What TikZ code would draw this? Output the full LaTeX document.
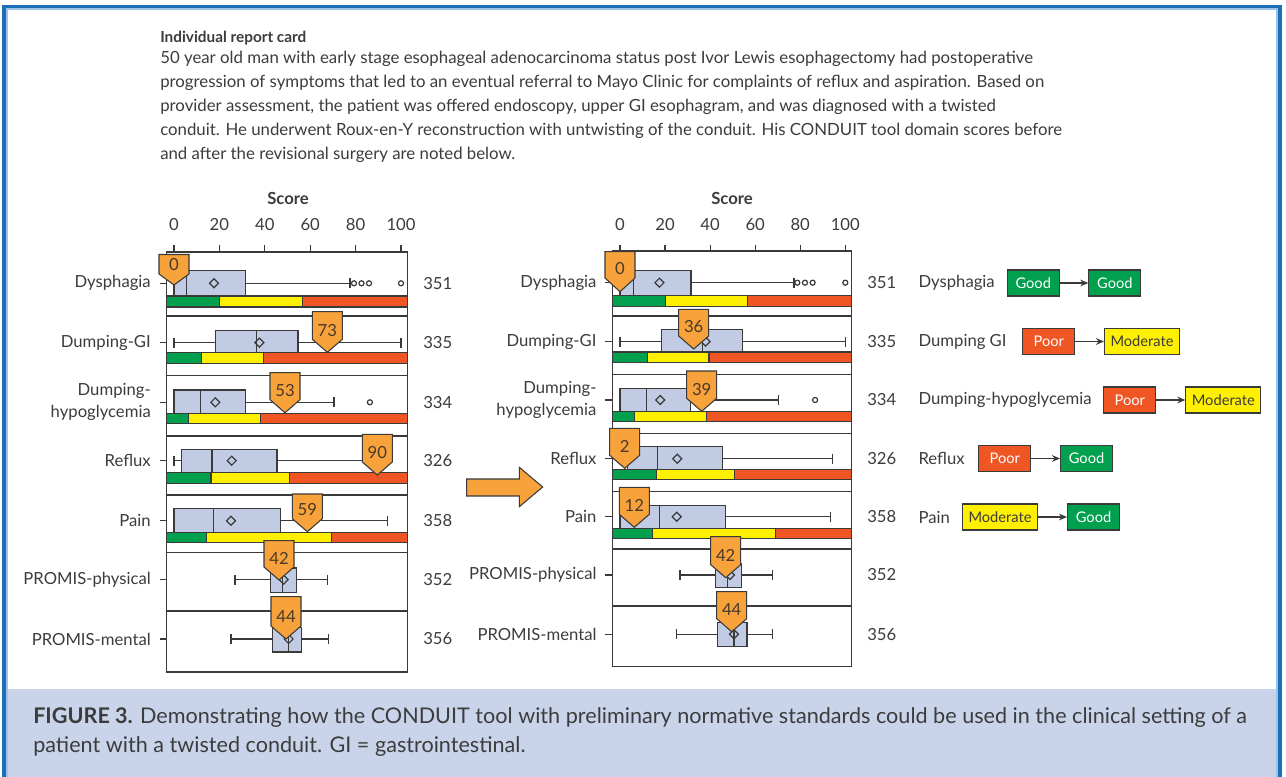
\documentclass[tikz,border=0pt]{standalone}
\usepackage{fontspec}
\setmainfont{Lato}
\usetikzlibrary{arrows.meta}
\definecolor{cgreen}{HTML}{00A04F}
\definecolor{cyellow}{HTML}{FFEF00}
\definecolor{cred}{HTML}{EF5623}
\definecolor{corange}{HTML}{F7A23B}
\definecolor{cbox}{HTML}{C1CCE4}
\definecolor{cline}{HTML}{3A3A3A}
\definecolor{ctext}{HTML}{3C3C3C}
\definecolor{cmk}{HTML}{4A3A28}
\definecolor{ccap}{HTML}{C9D4EA}
\definecolor{cframe}{HTML}{1D6FB8}
\definecolor{cframel}{HTML}{9CC2E8}
\tikzset{
 wh/.style={draw=cline, line width=0.9pt},
 boxst/.style={draw=cline, fill=cbox, line width=0.9pt},
 barst/.style={draw=cline, line width=0.8pt},
 mkst/.style={draw=cline, fill=corange, line width=0.8pt, line join=miter},
 mktxt/.style={inner sep=0pt, text=cmk, font=\fontsize{12.5}{14}\selectfont},
 lbl/.style={inner sep=0pt, text=ctext, font=\fontsize{12.5}{15}\selectfont},
 stat/.style={draw=cline, line width=0.8pt, minimum height=19.5pt, inner sep=0pt, font=\fontsize{11}{13}\selectfont},
 good/.style={stat, fill=cgreen, text=white, minimum width=39pt},
 poor/.style={stat, fill=cred, text=white, minimum width=39pt},
 moder/.style={stat, fill=cyellow, text=ctext, minimum width=56.25pt},
 conn/.style={draw=cline, line width=0.9pt, -{Stealth[length=6pt,width=5pt]}},
}
% box plot row: w, top, bottom, wl, q1, med, q3, wr, mean
\newcommand{\brow}[9]{%
 \draw[wh] ({\XO+\SC*(#4)},#1) -- ({\XO+\SC*(#5)},#1)
           ({\XO+\SC*(#7)},#1) -- ({\XO+\SC*(#8)},#1)
           ({\XO+\SC*(#4)},{#1-5}) -- ({\XO+\SC*(#4)},{#1+5})
           ({\XO+\SC*(#8)},{#1-5}) -- ({\XO+\SC*(#8)},{#1+5});
 \draw[boxst] ({\XO+\SC*(#5)},#2) rectangle ({\XO+\SC*(#7)},#3);
 \draw[wh] ({\XO+\SC*(#6)},#2) -- ({\XO+\SC*(#6)},#3);
 \draw[wh] ({\XO+\SC*(#9)-4.5},#1) -- ({\XO+\SC*(#9)},{#1-4.5}) -- ({\XO+\SC*(#9)+4.5},#1) -- ({\XO+\SC*(#9)},{#1+4.5}) -- cycle;
}
\newcommand{\outl}[2]{\draw[wh,fill=white] ({\XO+\SC*(#2)},#1) circle[radius=1.9pt];}
% colour bar: top, bottom, green end, yellow end
\newcommand{\cbar}[4]{%
 \draw[barst,fill=cgreen] (\FL,#1) rectangle ({\XO+\SC*(#3)},#2);
 \draw[barst,fill=cyellow] ({\XO+\SC*(#3)},#1) rectangle ({\XO+\SC*(#4)},#2);
 \draw[barst,fill=cred] ({\XO+\SC*(#4)},#1) rectangle (\FR,#2);
}
% marker: name, tip x, tip y, top, corner, text
\newcommand{\mk}[6]{%
 \draw[mkst] ({#2-15},#4) -- ({#2+15},#4) -- ({#2+15},#5) -- (#2,#3) -- ({#2-15},#5) -- cycle;
 \node[mktxt] (#1) at (#2,{#5-9}) {#6};
}
\begin{document}
\begin{tikzpicture}[x=0.75pt,y=-0.75pt]
\useasboundingbox (0,0) rectangle (1286,777);
\fill[white] (0,0) rectangle (1286,777);
% caption band and frame
\fill[ccap] (4,689) rectangle (1280,777);
\draw[cframel, line width=1.6pt] (6.5,777) -- (6.5,9.2) -- (1277.5,9.2) -- (1277.5,777);
\draw[cframe, line width=2.4pt] (4,777) -- (4,6.2) -- (1280,6.2) -- (1280,777);

% header text
\node[inner sep=0pt, anchor=west, text=ctext, font=\fontsize{11.5}{14}\selectfont\bfseries] (title) at (160,38) {Individual report card};
\node[inner sep=0pt, anchor=north west, align=left, text=ctext, font=\fontsize{12.6}{18}\selectfont] (para) at (160,51) {50 year old man with early stage esophageal adenocarcinoma status post Ivor Lewis esophagectomy had postoperative\\
progression of symptoms that led to an eventual referral to Mayo Clinic for complaints of reflux and aspiration. Based on\\
provider assessment, the patient was offered endoscopy, upper GI esophagram, and was diagnosed with a twisted\\
conduit. He underwent Roux-en-Y reconstruction with untwisting of the conduit. His CONDUIT tool domain scores before\\
and after the revisional surgery are noted below.};

% ================= LEFT CHART =================
\def\XO{174}\def\SC{2.27}\def\FL{166.3}\def\FR{407.7}
\node[inner sep=0pt, text=ctext, font=\fontsize{12.5}{15}\selectfont\bfseries] (scoreL) at (288,198) {Score};
\foreach \v in {0,20,40,60,80,100}{
  \node[lbl] (tL\v) at ({\XO+\SC*\v},225) {\v};
  \draw[wh] ({\XO+\SC*\v},245.5) -- ({\XO+\SC*\v},252);
}
\draw[wh] (\FL,252) rectangle (\FR,672);
\foreach \s in {316,375.5,436,495,552.7,611} \draw[wh] (\FL,\s) -- (\FR,\s);
\foreach \w in {283.3,342.7,402.3,460.7,520.7,579.7,639} \draw[wh] (159.5,\w) -- (\FL,\w);

\brow{283.3}{270.7}{296}{0}{0}{5.6}{31.6}{77.5}{17.6}
\outl{283.3}{79.3}\outl{283.3}{82.6}\outl{283.3}{85.9}\outl{283.3}{100}
\cbar{296}{307}{20}{56.7}
\brow{342.7}{330.3}{352.7}{0}{18.4}{36.4}{54.6}{100}{37.6}
\cbar{352.7}{363.7}{12.2}{39.5}
\brow{402.3}{390}{413.7}{0}{0}{11.7}{31.4}{70.5}{18.2}
\outl{402.3}{86.3}
\cbar{413.7}{423.5}{6.3}{38.3}
\brow{460.7}{449.3}{472.3}{0}{3.2}{16.7}{45.4}{94.5}{25.4}
\cbar{472.3}{483.3}{16.3}{50.8}
\brow{520.7}{508.7}{532.7}{0}{0}{17.5}{46.8}{94}{25.1}
\cbar{532.7}{542.5}{14.4}{69.2}
\brow{579.7}{568}{592.3}{26.9}{42.4}{47.9}{53.9}{67.7}{48.3}
\brow{639}{627.3}{652}{25.1}{43.5}{50.5}{56.2}{68}{50.5}

\mk{mL1}{174}{285}{254.5}{274}{0}
\mk{mL2}{327.3}{352.3}{311.7}{339.3}{73}
\mk{mL3}{285}{412.7}{372.7}{399.7}{53}
\mk{mL4}{377.3}{475}{434.3}{462}{90}
\mk{mL5}{307.3}{531.7}{494}{518.7}{59}
\mk{mL6}{279}{580}{540.7}{567}{42}
\mk{mL7}{286}{639}{596.7}{626}{44}

\node[lbl, anchor=east] (lL1) at (151,283.3) {Dysphagia};
\node[lbl, anchor=east] (lL2) at (151,342.7) {Dumping-GI};
\node[lbl, anchor=east, align=right, font=\fontsize{12.5}{16.5}\selectfont] (lL3) at (151,402.3) {Dumping-\\hypoglycemia};
\node[lbl, anchor=east] (lL4) at (151,460.7) {Reflux};
\node[lbl, anchor=east] (lL5) at (151,520.7) {Pain};
\node[lbl, anchor=east] (lL6) at (151,579.7) {PROMIS-physical};
\node[lbl, anchor=east] (lL7) at (151,639) {PROMIS-mental};
\node[lbl, anchor=west] (nL1) at (423,283.3) {351};
\node[lbl, anchor=west] (nL2) at (423,342.7) {335};
\node[lbl, anchor=west] (nL3) at (423,402.3) {334};
\node[lbl, anchor=west] (nL4) at (423,460.7) {326};
\node[lbl, anchor=west] (nL5) at (423,520.7) {358};
\node[lbl, anchor=west] (nL6) at (423,579.7) {352};
\node[lbl, anchor=west] (nL7) at (423,639) {356};

% middle arrow
\draw[mkst] (466.7,479) -- (519.3,479) -- (519.3,467.3) -- (542.7,487) -- (519.3,506.7) -- (519.3,496) -- (466.7,496) -- cycle;

% ================= RIGHT CHART =================
\def\XO{620}\def\SC{2.253}\def\FL{612.7}\def\FR{851.7}
\node[inner sep=0pt, text=ctext, font=\fontsize{12.5}{15}\selectfont\bfseries] (scoreR) at (732,198) {Score};
\foreach \v in {0,20,40,60,80,100}{
  \node[lbl] (tR\v) at ({\XO+\SC*\v},225) {\v};
  \draw[wh] ({\XO+\SC*\v},245) -- ({\XO+\SC*\v},251);
}
\draw[wh] (\FL,251) rectangle (\FR,666.7);
\foreach \s in {316,374.5,433.3,491.7,549,606} \draw[wh] (\FL,\s) -- (\FR,\s);
\foreach \w in {282.7,341.7,400,458.7,516.7,575,634.3} \draw[wh] (604.7,\w) -- (\FL,\w);

\brow{282.7}{270.7}{295.7}{0}{0}{5.9}{31.5}{77.2}{17.5}
\outl{282.7}{78.7}\outl{282.7}{82.1}\outl{282.7}{85.5}\outl{282.7}{100}
\cbar{295.7}{306.7}{20.1}{56.4}
\brow{341.7}{329.3}{352}{0}{18.3}{36.5}{54.4}{100}{38}
\cbar{352}{362.7}{12.1}{39.5}
\brow{400}{388.3}{411.7}{0}{0}{11.8}{31.2}{70.4}{17.9}
\outl{400}{86.6}
\cbar{411.7}{421.7}{6.4}{38.5}
\brow{458.7}{446.7}{469.3}{0}{3.2}{16.7}{45.4}{94.4}{25.4}
\cbar{469.3}{479.3}{16.4}{50.9}
\brow{516.7}{505.3}{528.3}{0}{0}{17.5}{47}{93.5}{25.2}
\cbar{528.3}{538.3}{14.3}{68.9}
\brow{575}{563.3}{587.7}{26.6}{42.3}{47.6}{53.8}{67.6}{48.8}
\brow{634.3}{622.3}{646.7}{25.2}{43.4}{50.6}{56.4}{67.8}{50.6}

\mk{mR1}{620}{291.7}{251.7}{278}{0}
\mk{mR2}{693.7}{349}{309.3}{336}{36}
\mk{mR3}{701.7}{411.3}{371}{398.3}{39}
\mk{mR4}{624.7}{468.3}{428.3}{455.3}{2}
\mk{mR5}{634.3}{527.3}{487.3}{514.3}{12}
\mk{mR6}{725.7}{577.7}{536.7}{564.7}{42}
\mk{mR7}{731.7}{631.7}{591.7}{618.7}{44}

\node[lbl, anchor=east] (lR1) at (596.7,282.7) {Dysphagia};
\node[lbl, anchor=east] (lR2) at (596.7,341.7) {Dumping-GI};
\node[lbl, anchor=east, align=right, font=\fontsize{12.5}{16.5}\selectfont] (lR3) at (596.7,400) {Dumping-\\hypoglycemia};
\node[lbl, anchor=east] (lR4) at (596.7,458.7) {Reflux};
\node[lbl, anchor=east] (lR5) at (596.7,516.7) {Pain};
\node[lbl, anchor=east] (lR6) at (596.7,575) {PROMIS-physical};
\node[lbl, anchor=east] (lR7) at (596.7,634.3) {PROMIS-mental};
\node[lbl, anchor=west] (nR1) at (867,282.7) {351};
\node[lbl, anchor=west] (nR2) at (867,341.7) {335};
\node[lbl, anchor=west] (nR3) at (867,400) {334};
\node[lbl, anchor=west] (nR4) at (867,458.7) {326};
\node[lbl, anchor=west] (nR5) at (867,516.7) {358};
\node[lbl, anchor=west] (nR6) at (867,575) {352};
\node[lbl, anchor=west] (nR7) at (867,634.3) {356};

% ================= SUMMARY =================
\node[lbl, anchor=west] (s1) at (918.3,283) {Dysphagia};
\node[good, anchor=west] (s1a) at (1006.7,283) {Good};
\node[good, anchor=west] (s1b) at (1088.3,283) {Good};
\draw[conn] (s1a) -- (s1b);
\node[lbl, anchor=west] (s2) at (918.3,341.5) {Dumping GI};
\node[poor, anchor=west] (s2a) at (1022.3,341.5) {Poor};
\node[moder, anchor=west] (s2b) at (1104,341.5) {Moderate};
\draw[conn] (s2a) -- (s2b);
\node[lbl, anchor=west] (s3) at (918.3,400) {Dumping-hypoglycemia};
\node[poor, anchor=west] (s3a) at (1103.3,400) {Poor};
\node[moder, anchor=west] (s3b) at (1185.3,400) {Moderate};
\draw[conn] (s3a) -- (s3b);
\node[lbl, anchor=west] (s4) at (918.3,458.5) {Reflux};
\node[poor, anchor=west] (s4a) at (978.3,458.5) {Poor};
\node[good, anchor=west] (s4b) at (1060,458.5) {Good};
\draw[conn] (s4a) -- (s4b);
\node[lbl, anchor=west] (s5) at (918.3,517) {Pain};
\node[moder, anchor=west] (s5a) at (962,517) {Moderate};
\node[good, anchor=west] (s5b) at (1067,517) {Good};
\draw[conn] (s5a) -- (s5b);

% caption
\node[inner sep=0pt, anchor=north west, align=left, text=ctext, font=\fontsize{16.2}{21.75}\selectfont] (cap) at (33,707) {\textbf{FIGURE 3.} Demonstrating how the CONDUIT tool with preliminary normative standards could be used in the clinical setting of a\\
patient with a twisted conduit. GI = gastrointestinal.};
\end{tikzpicture}
\end{document}
